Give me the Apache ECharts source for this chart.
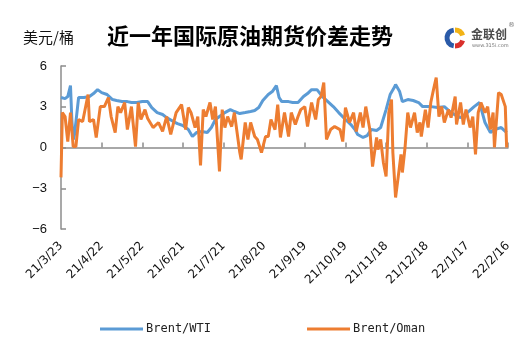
<!DOCTYPE html>
<html>
<head>
<meta charset="utf-8">
<script src="https://cdn.jsdelivr.net/npm/echarts@6/dist/echarts.min.js"></script>
<style>
html,body{margin:0;padding:0;background:#fff;}
#chart{width:531px;height:356px;}
</style>
</head>
<body>
<div id="chart"></div>
<script>
// x values are day offsets from the start date 2021-03-23
const startDate = '2021-03-23';
const tickDays = [0, 30, 60, 90, 120, 150, 180, 210, 240, 270, 300, 330];
const yTicks = [-6, -3, 0, 3, 6];

const wtiDays = [0,3,5,7,8,9,10,13,17,21,24,27,30,34,38,41,45,49,52,56,60,64,67,71,75,78,83,86,90,94,97,100,104,108,111,114,117,121,125,128,132,136,140,143,146,149,153,156,159,161,163,168,171,175,179,182,185,189,193,197,201,205,210,214,217,219,223,226,229,233,236,240,243,246,247,250,252,256,260,264,267,273,278,283,288,292,295,300,305,309,313,317,320,325,329];
const wtiValues = [3.68,3.6,3.75,4.56,2.06,0.59,0.96,3.68,3.68,3.75,3.97,4.26,4.04,3.9,3.53,3.46,3.38,3.38,3.31,3.31,3.38,3.38,2.94,2.57,2.43,2.2,1.91,1.76,1.62,1.32,0.81,1.1,1.18,1.1,1.47,2.06,2.28,2.57,2.79,2.65,2.5,2.57,2.65,2.72,2.94,3.46,3.9,4.12,4.56,3.68,3.38,3.38,3.31,3.31,3.75,3.97,4.26,4.26,3.75,3.38,3.01,2.57,2.06,1.69,1.32,0.96,0.74,0.88,1.32,1.25,1.47,2.79,3.9,4.41,4.63,4.12,3.38,3.53,3.46,3.31,3.01,3.01,2.94,3.01,2.57,2.35,2.2,2.57,3.01,3.31,1.84,1.1,1.32,1.47,1.1];

const omanDays = [0,1,3,5,7,9,11,13,16,20,21,24,26,29,32,35,37,40,42,44,47,49,52,55,57,59,62,64,68,72,75,78,81,85,89,92,94,96,99,101,103,105,107,110,112,114,117,119,121,123,126,128,132,133,136,138,140,143,145,148,151,153,155,158,160,162,165,168,170,173,175,177,180,182,185,188,190,192,194,196,199,202,206,208,210,213,216,218,221,223,225,228,230,233,234,236,238,240,242,244,245,247,249,251,252,254,256,258,261,263,265,266,269,271,273,275,277,279,281,283,286,288,291,292,295,297,299,302,304,306,308,310,313,315,317,319,320,323,325,328,329];
const omanValues = [-2.2,2.57,2.28,0.44,2.57,0.07,0.07,2.06,1.91,3.9,1.91,2.06,0.74,3.01,3.01,3.68,2.28,1.1,3.01,2.57,3.31,1.32,3.01,0.07,3.31,2.06,2.79,2.13,1.47,1.84,1.18,2.28,0.96,2.57,3.16,1.32,2.94,2.57,1.47,2.28,-1.32,2.79,2.28,3.31,2.06,3.01,-1.76,2.79,1.47,2.28,1.54,2.57,-0.37,-0.88,1.84,0.59,1.84,0.81,0.59,-0.37,0.81,0.81,2.06,1.32,3.16,0.74,2.57,0.81,2.57,1.69,2.28,2.79,3.01,1.54,3.31,2.06,3.53,3.75,4.78,0.59,1.32,1.54,1.32,0.44,2.94,1.84,2.57,1.18,2.57,1.47,3.01,1.32,-1.4,0.74,-0.15,0.59,-1.1,-2.13,2.57,3.53,-0.37,-3.68,-2.13,-0.51,-1.84,0,2.57,1.47,2.57,1.1,1.84,0.81,2.79,1.47,3.31,4.26,5.15,2.28,3.01,1.84,2.79,2.2,3.75,1.69,3.31,1.69,2.79,1.47,2.28,-0.51,2.57,3.31,2.57,3.01,1.32,2.57,0,4.04,3.9,3.01,0];

const startMs = Date.UTC(2021, 2, 23);
function dayLabel(v) {
  const d = new Date(startMs + v * 86400000);
  return (d.getUTCFullYear() % 100) + '/' + (d.getUTCMonth() + 1) + '/' + d.getUTCDate();
}

const chart = echarts.init(document.getElementById('chart'), null, {renderer: 'canvas'});
const axisColor = '#8c8c8c';
chart.setOption({
  animation: false,
  backgroundColor: '#fff',
  title: {
    text: '近一年国际原油期货价差走势',
    left: 102, top: 20,
    textStyle: {fontFamily: 'Noto Sans CJK SC', fontWeight: 'bold', fontSize: 22, color: '#000'}
  },
  graphic: [
    {type: 'text', left: 23, top: 30, style: {text: '美元/桶', font: '15px "Noto Sans CJK SC"', fill: '#111'}},
    // logo
    {type: 'arc', shape: {cx: 455, cy: 38, r: 8, startAngle: Math.PI * 0.55, endAngle: Math.PI * 1.45}, style: {stroke: '#2a5aa8', lineWidth: 5, fill: 'none'}},
    {type: 'arc', shape: {cx: 455, cy: 38, r: 8, startAngle: Math.PI * 1.5, endAngle: Math.PI * 1.9}, style: {stroke: '#f2b316', lineWidth: 5, fill: 'none'}},
    {type: 'arc', shape: {cx: 455, cy: 38, r: 8, startAngle: Math.PI * 0.1, endAngle: Math.PI * 0.5}, style: {stroke: '#d9302c', lineWidth: 5, fill: 'none'}},
    {type: 'text', left: 471, top: 28, style: {text: '金联创', font: 'bold 12px "Noto Sans CJK SC"', fill: '#4a4a4a'}},
    {type: 'text', left: 472, top: 43, style: {text: 'www.315i.com', font: '5px "DejaVu Sans"', fill: '#777'}},
    {type: 'text', left: 508, top: 22, style: {text: '®', font: '7px "DejaVu Sans"', fill: '#777'}}
  ],
  legend: {
    bottom: 16, left: 95,
    itemWidth: 43, itemHeight: 3, itemGap: 96,
    icon: 'rect',
    textStyle: {fontFamily: 'DejaVu Sans Mono', fontSize: 12, color: '#222', padding: [0, 0, 0, -2]},
    data: ['Brent/WTI', 'Brent/Oman']
  },
  grid: {left: 61, right: 23, top: 66, bottom: 127, containLabel: false},
  xAxis: {
    type: 'value',
    min: tickDays[0], max: tickDays[tickDays.length - 1], interval: 30,
    splitLine: {show: false},
    axisLine: {show: true, lineStyle: {color: axisColor, width: 1.5}},
    axisTick: {show: true, inside: true, length: 5, lineStyle: {color: axisColor, width: 1.5}},
    axisLabel: {rotate: 45, margin: 15, fontFamily: 'DejaVu Sans', fontSize: 12, color: '#111', formatter: dayLabel}
  },
  yAxis: {
    type: 'value',
    min: yTicks[0], max: yTicks[yTicks.length - 1], interval: 3,
    splitLine: {show: false},
    axisLine: {show: true, lineStyle: {color: axisColor, width: 1.5}},
    axisTick: {show: true, inside: true, length: 5, lineStyle: {color: axisColor, width: 1.5}},
    axisLabel: {margin: 14, fontFamily: 'Liberation Sans', fontSize: 13, color: '#111', formatter: v => String(v).replace('-', '−')}
  },
  series: [
    {
      name: 'Brent/WTI', type: 'line', symbol: 'none', smooth: false,
      itemStyle: {color: '#5b9bd5'},
      lineStyle: {color: '#5b9bd5', width: 3},
      data: wtiDays.map((d, i) => [d, wtiValues[i]])
    },
    {
      name: 'Brent/Oman', type: 'line', symbol: 'none', smooth: false,
      itemStyle: {color: '#ed7d31'},
      lineStyle: {color: '#ed7d31', width: 3},
      data: omanDays.map((d, i) => [d, omanValues[i]])
    }
  ]
});
</script>
</body>
</html>
